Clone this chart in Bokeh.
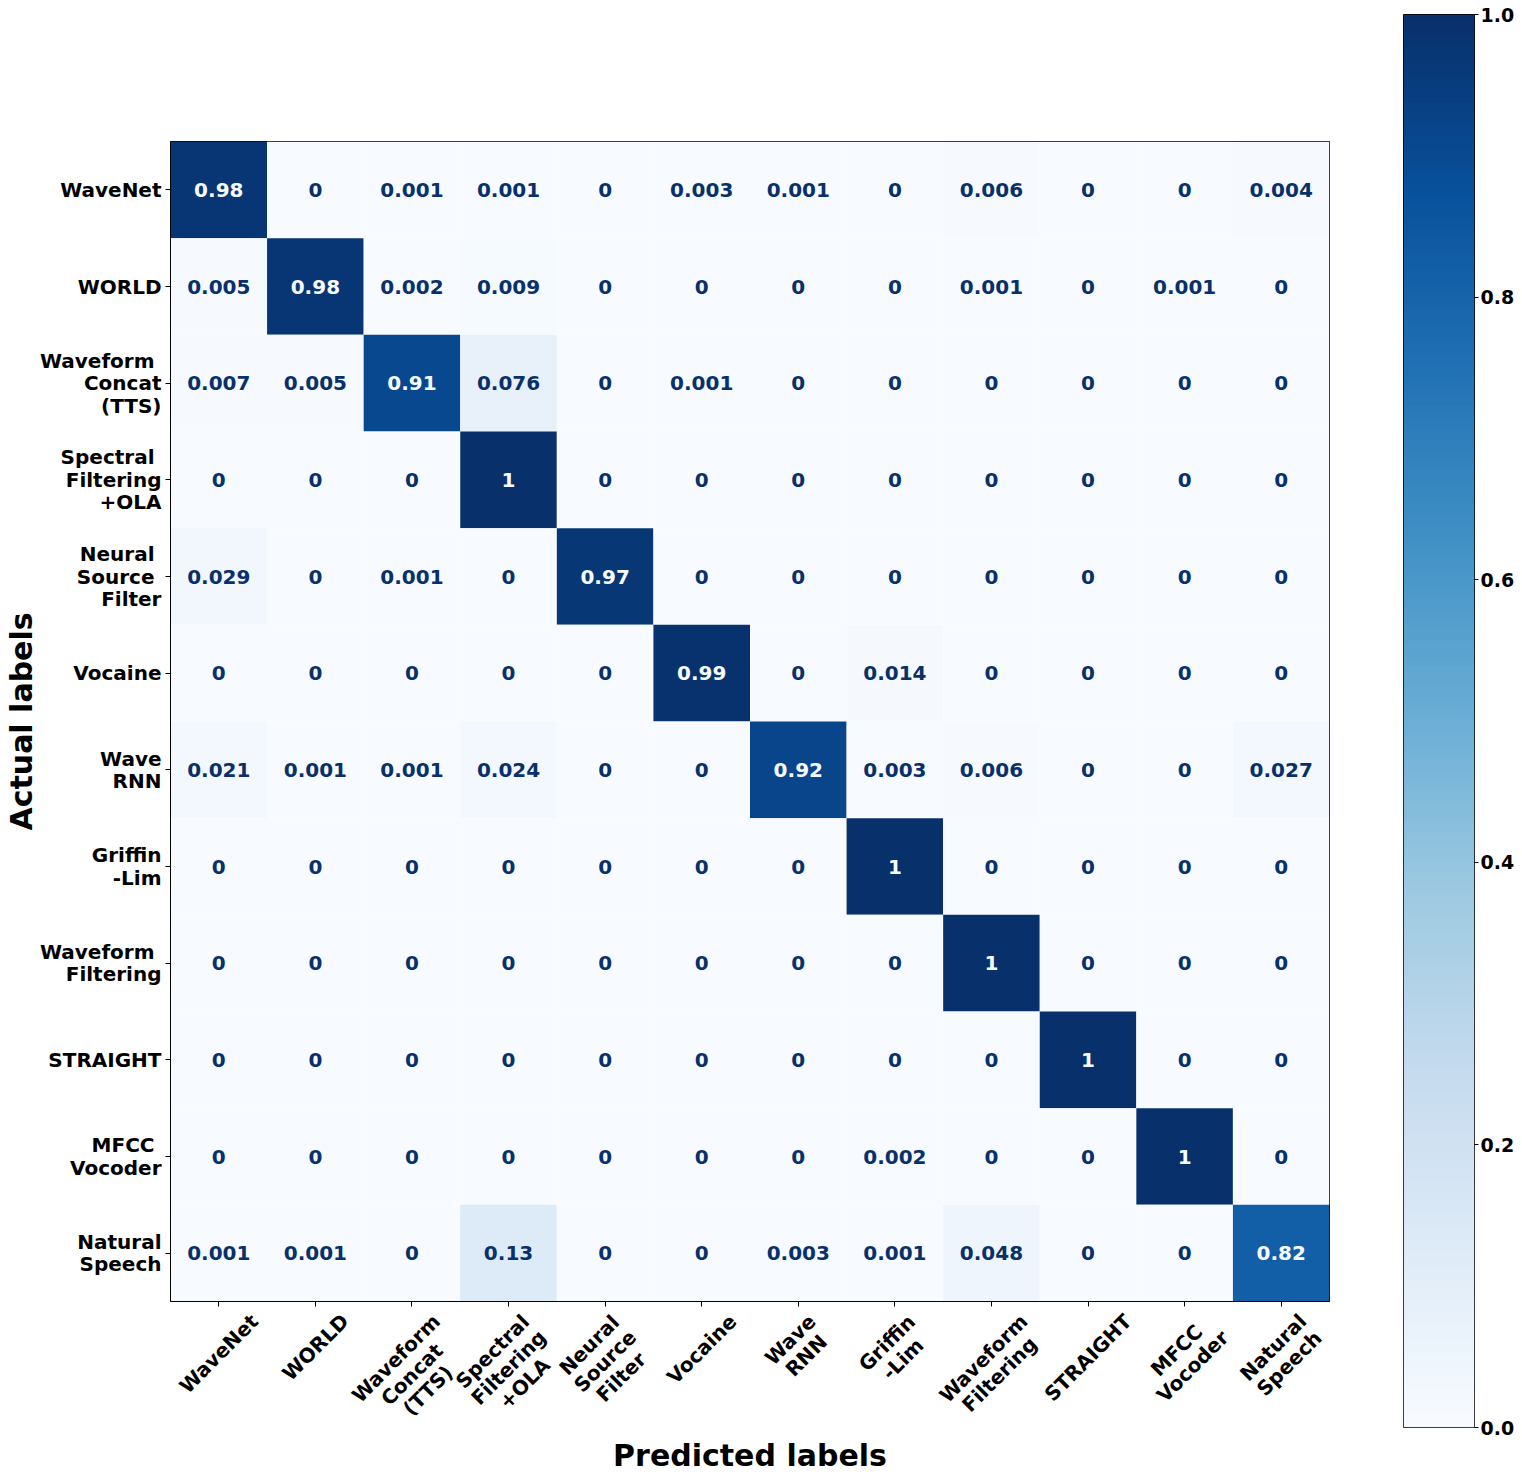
import numpy as np
from math import pi
from bokeh.plotting import figure
from bokeh.models import (Range1d, FixedTicker, ColumnDataSource, LinearColorMapper,
                          PrintfTickFormatter)
from bokeh.layouts import row, column
from bokeh.palettes import Blues256
from bokeh.core.properties import value
from bokeh.embed import file_html
from bokeh.resources import INLINE

# ---------------- data ----------------
x_labels = ["WaveNet", "WORLD", "Waveform\nConcat\n(TTS)", "Spectral\nFiltering\n+OLA",
            "Neural\nSource\nFilter", "Vocaine", "Wave\nRNN", "Griffin\n-Lim",
            "Waveform\nFiltering", "STRAIGHT", "MFCC\nVocoder", "Natural\nSpeech"]
y_labels = ["WaveNet", "WORLD", "Waveform \nConcat\n(TTS)", "Spectral \nFiltering\n+OLA",
            "Neural \nSource \nFilter", "Vocaine", "Wave\nRNN", "Griffin\n-Lim",
            "Waveform \nFiltering", "STRAIGHT", "MFCC \nVocoder", "Natural\nSpeech"]

row_wavenet  = [0.98, 0, 0.001, 0.001, 0, 0.003, 0.001, 0, 0.006, 0, 0, 0.004]
row_world    = [0.005, 0.98, 0.002, 0.009, 0, 0, 0, 0, 0.001, 0, 0.001, 0]
row_concat   = [0.007, 0.005, 0.91, 0.076, 0, 0.001, 0, 0, 0, 0, 0, 0]
row_spectral = [0, 0, 0, 1, 0, 0, 0, 0, 0, 0, 0, 0]
row_nsf      = [0.029, 0, 0.001, 0, 0.97, 0, 0, 0, 0, 0, 0, 0]
row_vocaine  = [0, 0, 0, 0, 0, 0.99, 0, 0.014, 0, 0, 0, 0]
row_wavernn  = [0.021, 0.001, 0.001, 0.024, 0, 0, 0.92, 0.003, 0.006, 0, 0, 0.027]
row_griffin  = [0, 0, 0, 0, 0, 0, 0, 1, 0, 0, 0, 0]
row_wfilter  = [0, 0, 0, 0, 0, 0, 0, 0, 1, 0, 0, 0]
row_straight = [0, 0, 0, 0, 0, 0, 0, 0, 0, 1, 0, 0]
row_mfcc     = [0, 0, 0, 0, 0, 0, 0, 0.002, 0, 0, 1, 0]
row_natural  = [0.001, 0.001, 0, 0.13, 0, 0, 0.003, 0.001, 0.048, 0, 0, 0.82]

confusion = [row_wavenet, row_world, row_concat, row_spectral, row_nsf, row_vocaine,
             row_wavernn, row_griffin, row_wfilter, row_straight, row_mfcc, row_natural]

cbar_ticks = [0.0, 0.2, 0.4, 0.6, 0.8, 1.0]

# ---------------- build ----------------
FONT = "DejaVu Sans"
FS = 20          # tick label font size (px)
LINE = 22.6      # line spacing of multi-line labels (px)
LH = 23          # single line box height (px)

# approximate DejaVu Sans Bold advance widths (em)
CW = {' ': .348, '(': .457, ')': .457, '+': .838, '-': .416, '.': .380,
      'A': .774, 'C': .734, 'D': .830, 'F': .683, 'G': .821, 'H': .837, 'I': .372,
      'L': .637, 'M': .995, 'N': .837, 'O': .850, 'R': .770, 'S': .720, 'T': .682,
      'V': .774, 'W': 1.103, 'a': .675, 'c': .593, 'd': .716, 'e': .678, 'f': .435,
      'h': .712, 'i': .343, 'l': .343, 'm': 1.042, 'n': .712, 'o': .687, 'p': .716,
      'r': .493, 's': .595, 't': .478, 'u': .712, 'v': .652, 'g': .716, 'k': .665}


def text_w(s):
    return sum(CW.get(ch, 0.68) for ch in s) * FS


pal = list(Blues256)
if pal[0].lower() != "#f7fbff":
    pal = pal[::-1]
mapper = LinearColorMapper(palette=pal, low=0.0, high=1.0)

n = len(x_labels)
xs, ys, vals, txt, tcol = [], [], [], [], []
for i, r in enumerate(confusion):
    for j, v in enumerate(r):
        xs.append(j + 0.5)
        ys.append(i + 0.5)
        vals.append(v)
        txt.append(format(v, ".2g"))
        tcol.append("#f7fbff" if v >= 0.5 else "#08306b")
src = ColumnDataSource(dict(x=xs, y=ys, v=vals, t=txt, c=tcol))

FW, FH = 1159, 1160
LEFT = 170
p = figure(frame_width=FW, frame_height=FH,
           x_range=Range1d(0, n), y_range=Range1d(n, 0),
           min_border_left=LEFT, min_border_top=141, min_border_right=20, min_border_bottom=6,
           toolbar_location=None, output_backend="svg")
p.frame_align = False
p.rect(x="x", y="y", width=1, height=1, source=src,
       fill_color={"field": "v", "transform": mapper}, line_color=None)
p.text(x="x", y="y", text="t", source=src, text_color="c",
       text_align="center", text_baseline="middle",
       text_font=value(FONT), text_font_style="bold", text_font_size="20px")

p.grid.visible = False
p.outline_line_color = "black"
p.outline_line_width = 1
p.outline_line_alpha = 1

centers = [k + 0.5 for k in range(n)]
p.xaxis.ticker = FixedTicker(ticks=centers)
p.yaxis.ticker = FixedTicker(ticks=centers)
p.yaxis.major_label_overrides = {c: lab for c, lab in zip(centers, y_labels)}
for ax in (p.xaxis, p.yaxis):
    ax.major_label_text_font = FONT
    ax.major_label_text_font_style = "bold"
    ax.major_label_text_font_size = "20px"
    ax.major_label_text_color = "black"
    ax.axis_label_text_font = FONT
    ax.axis_label_text_font_style = "bold"
    ax.axis_label_text_font_size = "30px"
    ax.axis_label_text_color = "black"
    ax.minor_tick_line_color = None
    ax.major_tick_out = 5
    ax.major_tick_in = 0
    ax.major_tick_line_color = "black"
    ax.axis_line_color = "black"
    ax.major_label_standoff = 4
p.yaxis.major_label_text_line_height = 0.94
p.xaxis.major_label_text_font_size = "0px"
p.xaxis.major_label_text_color = None
p.xaxis.major_label_standoff = 0
p.yaxis.axis_label = "Actual labels"
p.yaxis.axis_label_standoff = -2

# ---- strip below the matrix holding the rotated x tick labels ----
# matplotlib style: rotated bbox top-centre sits just under each tick
XH = 118
lx, ly, lt, lxo = [], [], [], []
c45 = 0.70710678
for j, lab in enumerate(x_labels):
    lines = lab.split("\n")
    m = len(lines)
    W = max(text_w(s) for s in lines)
    H = (m - 1) * LINE + LH
    half = (W + H) * c45 / 2.0
    for i, s in enumerate(lines):
        k = (i - (m - 1) / 2.0) * LINE * c45
        lx.append(j + 0.5)
        ly.append(2 + half + k)
        lt.append(s)
        lxo.append(k)
lab_src = ColumnDataSource(dict(x=lx, y=ly, text=lt, xo=lxo))

xl = figure(frame_width=FW, frame_height=XH, x_range=p.x_range, y_range=Range1d(XH, 0),
            min_border_left=LEFT, min_border_right=20, min_border_top=0, min_border_bottom=47,
            y_axis_location=None, toolbar_location=None, output_backend="svg")
xl.frame_align = False
xl.outline_line_color = None
xl.grid.visible = False
xl.text(x="x", y="y", text="text", x_offset="xo", source=lab_src, angle=pi / 4,
        text_align="center", text_baseline="middle", text_color="black",
        text_font=value(FONT), text_font_style="bold", text_font_size="20px")
xl.xaxis.ticker = FixedTicker(ticks=[])
xl.xaxis.axis_line_color = None
xl.xaxis.major_tick_line_color = None
xl.xaxis.minor_tick_line_color = None
xl.xaxis.major_label_text_color = None
xl.xaxis.axis_label = "Predicted labels"
xl.xaxis.axis_label_text_font = FONT
xl.xaxis.axis_label_text_font_style = "bold"
xl.xaxis.axis_label_text_font_size = "30px"
xl.xaxis.axis_label_text_color = "black"
xl.xaxis.axis_label_standoff = 12

# ---- colorbar as its own figure ----
cb = figure(frame_width=71, frame_height=1413, x_range=Range1d(0, 1), y_range=Range1d(0, 1),
            min_border_left=54, min_border_top=14, min_border_right=40, min_border_bottom=14,
            x_axis_location=None, y_axis_location="right",
            toolbar_location=None, output_backend="svg")
cb.frame_align = False
grad = np.array(np.linspace(0, 1, 256)).reshape(256, 1)
cb.image(image=[grad], x=0, y=0, dw=1, dh=1, color_mapper=mapper)
cb.grid.visible = False
cb.outline_line_color = "black"
cb.outline_line_width = 1
cb.yaxis.ticker = FixedTicker(ticks=cbar_ticks)
cb.yaxis.formatter = PrintfTickFormatter(format="%.1f")
cb.yaxis.major_label_text_font = FONT
cb.yaxis.major_label_text_font_style = "bold"
cb.yaxis.major_label_text_font_size = "19px"
cb.yaxis.major_label_text_color = "black"
cb.yaxis.minor_tick_line_color = None
cb.yaxis.major_tick_out = 4
cb.yaxis.major_tick_in = 0
cb.yaxis.major_label_standoff = 2
cb.yaxis.axis_line_color = None

layout = row(column(p, xl), cb)
open("out.html", "w").write(file_html(layout, INLINE))
